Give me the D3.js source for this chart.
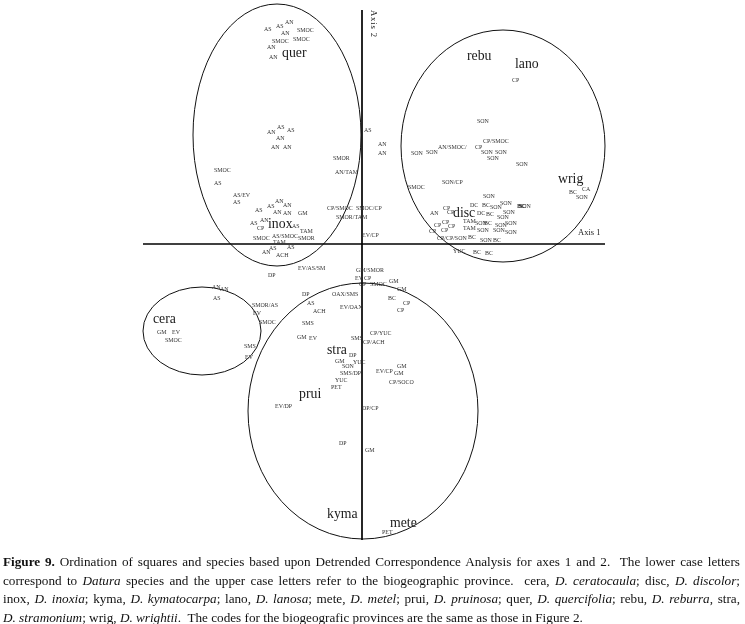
<!DOCTYPE html>
<html>
<head>
<meta charset="utf-8">
<script src="https://cdn.jsdelivr.net/npm/d3@7"></script>
<style>
body { margin: 0; background: #fff; }
#wrap { position: relative; width: 745px; height: 624px; overflow: hidden; }
#wrap svg { position: absolute; left: 0; top: 0; will-change: transform; }
.cap { position: absolute; left: 3px; width: 737px; font-family: "Liberation Serif", "Times New Roman", serif;
       font-size: 13.2px; line-height: 18.5px; color: #111; text-align: justify; text-align-last: justify;
       white-space: nowrap; will-change: transform; }
.cap.last { text-align-last: left; }
</style>
</head>
<body>
<div id="wrap"></div>
<script>
// DCA scores (axis 1, axis 2)

// species (lower case)
var species = [
	["quer", -0.80, 1.92], ["inox", -0.94, 0.21], ["rebu", 1.05, 1.89], ["lano", 1.53, 1.81],
	["wrig", 1.96, 0.66], ["disc", 0.91, 0.32], ["cera", -2.09, -0.74], ["stra", -0.35, -1.05],
	["prui", -0.63, -1.49], ["kyma", -0.35, -2.69], ["mete", 0.28, -2.78]
];

// squares, D. quercifolia / D. inoxia group
var querSquares = [
	["AS", -0.98, 2.15], ["AS", -0.86, 2.18], ["AN", -0.77, 2.22], ["AN", -0.81, 2.11],
	["SMOC", -0.65, 2.14], ["SMOC", -0.90, 2.03], ["SMOC", -0.69, 2.05], ["AN", -0.95, 1.97],
	["AN", -0.93, 1.87],
	["AN", -0.95, 1.12], ["AS", -0.85, 1.17], ["AS", -0.75, 1.14], ["AN", -0.86, 1.06],
	["AN", -0.91, 0.97], ["AN", -0.79, 0.97], ["AS", 0.02, 1.14], ["AN", 0.16, 1.00],
	["AN", 0.16, 0.91], ["SMOR", -0.29, 0.86], ["AN/TAM", -0.27, 0.72], ["SMOC", -1.48, 0.74],
	["AS", -1.48, 0.61], ["AS/EV", -1.29, 0.49], ["AS", -1.29, 0.42], ["AN", -0.87, 0.43],
	["AS", -0.95, 0.38], ["AN", -0.79, 0.39], ["AS", -1.07, 0.34], ["AN", -0.89, 0.32],
	["AN", -0.79, 0.31], ["GM", -0.64, 0.31], ["AS", -1.12, 0.21], ["AN", -1.02, 0.24],
	["CP", -1.05, 0.16], ["AS", -0.70, 0.18], ["TAM", -0.62, 0.13], ["SMOC", -1.09, 0.06],
	["AS/SMOC", -0.90, 0.08], ["SMOR", -0.64, 0.06], ["TAM", -0.89, 0.02], ["AS", -0.75, -0.03],
	["AN", -1.00, -0.08], ["AS", -0.93, -0.04], ["ACH", -0.86, -0.11],
	["CP/SMOC", -0.35, 0.36], ["SMOC/CP", -0.06, 0.36], ["SMOR/TAM", -0.26, 0.27], ["EV/CP", 0.00, 0.09]
];

// squares, D. reburra / D. lanosa / D. wrightii / D. discolor group
var rightSquares = [
	["CP", 1.50, 1.64], ["SON", 1.15, 1.23], ["SON", 0.49, 0.91], ["SON", 0.64, 0.92],
	["AN/SMOC/", 0.76, 0.97], ["CP", 1.13, 0.97], ["CP/SMOC", 1.21, 1.03], ["SON", 1.19, 0.92],
	["SON", 1.33, 0.92], ["SON", 1.25, 0.86], ["SON", 1.54, 0.80], ["SMOC", 0.46, 0.57],
	["SON/CP", 0.80, 0.62], ["BC", 2.07, 0.52], ["CA", 2.20, 0.55], ["SON", 2.14, 0.47],
	["SON", 1.21, 0.48], ["SON", 1.38, 0.41], ["DC", 1.08, 0.39], ["BC", 1.20, 0.39],
	["SON", 1.28, 0.37], ["SON", 1.41, 0.32], ["BC", 1.55, 0.38], ["SON", 1.57, 0.38],
	["BC", 1.56, 0.38], ["AN", 0.68, 0.31], ["CP", 0.81, 0.36], ["CP", 0.85, 0.32],
	["DC", 1.15, 0.31], ["BC", 1.24, 0.30], ["SON", 1.35, 0.27], ["TAM", 1.01, 0.23],
	["SON", 1.13, 0.21], ["BC", 1.22, 0.21], ["SON", 1.33, 0.19], ["SON", 1.43, 0.21],
	["CP", 0.67, 0.13], ["CP", 0.72, 0.19], ["CP", 0.80, 0.22], ["CP", 0.79, 0.14],
	["CP", 0.86, 0.18], ["TAM", 1.01, 0.16], ["SON", 1.15, 0.14], ["SON", 1.31, 0.14],
	["SON", 1.43, 0.12], ["CP/CP/SON", 0.75, 0.06], ["BC", 1.06, 0.07], ["SON", 1.18, 0.04],
	["BC", 1.31, 0.04], ["YUC", 0.91, -0.07], ["BC", 1.11, -0.08], ["BC", 1.23, -0.09]
];

// squares, D. ceratocaula group and the ones in between
var ceraSquares = [
	["EV/AS/SM", -0.64, -0.24], ["DP", -0.94, -0.31], ["AN", -1.50, -0.43], ["AN", -1.42, -0.45],
	["AS", -1.49, -0.54], ["SMOR/AS", -1.10, -0.61], ["EV", -1.09, -0.69], ["SMOC", -1.03, -0.78],
	["GM", -2.05, -0.88], ["EV", -1.90, -0.88], ["SMOC", -1.97, -0.96], ["SMS", -1.18, -1.02],
	["EV", -1.17, -1.13]
];

// squares, D. stramonium / D. pruinosa / D. kymatocarpa / D. metel group
var lowerSquares = [
	["GM/SMOR", -0.06, -0.26], ["EV", -0.07, -0.34], ["CP", 0.02, -0.34], ["CP", -0.03, -0.40],
	["SMOC", 0.08, -0.40], ["GM", 0.27, -0.37], ["GM", 0.35, -0.45], ["BC", 0.26, -0.54],
	["CP", 0.41, -0.59], ["CP", 0.35, -0.66], ["DP", -0.60, -0.50], ["OAX/SMS", -0.30, -0.50],
	["AS", -0.55, -0.59], ["ACH", -0.49, -0.67], ["EV/OAX", -0.22, -0.63], ["SMS", -0.60, -0.79],
	["GM", -0.65, -0.93], ["EV", -0.53, -0.94], ["SMS", -0.11, -0.94], ["CP/YUC", 0.08, -0.89],
	["CP/ACH", 0.01, -0.98], ["GM", -0.27, -1.17], ["DP", -0.13, -1.11], ["SON", -0.20, -1.22],
	["YUC", -0.09, -1.18], ["SMS/DP", -0.22, -1.29], ["YUC", -0.27, -1.36], ["PET", -0.31, -1.43],
	["EV/CP", 0.14, -1.27], ["GM", 0.35, -1.22], ["GM", 0.32, -1.29], ["CP/SOCO", 0.27, -1.38],
	["EV/DP", -0.87, -1.62], ["DP/CP", 0.00, -1.64], ["DP", -0.23, -1.99], ["GM", 0.03, -2.06],
	["PET", 0.20, -2.88]
];

// hand drawn envelopes: centre (axis 1, axis 2) and half widths in axis units
var groups = [
	["quer/inox", -0.85, 1.09, 0.84, 1.31],
	["rebu/lano/wrig/disc", 1.41, 0.98, 1.02, 1.16],
	["cera", -1.60, -0.87, 0.59, 0.44],
	["stra/prui/kyma/mete", 0.01, -1.67, 1.15, 1.28]
];

var axisNames = ["Axis 1", "Axis 2"];

var captionLines = [
	[["b", "Figure 9."], ["", " Ordination of squares and species based upon Detrended Correspondence Analysis for axes 1 and 2.\u00a0 The lower case letters"]],
	[["", "correspond to "], ["i", "Datura"], ["", " species and the upper case letters refer to the biogeographic province.\u00a0 cera, "], ["i", "D. ceratocaula"], ["", "; disc, "], ["i", "D. discolor"], ["", ";"]],
	[["", "inox, "], ["i", "D. inoxia"], ["", "; kyma, "], ["i", "D. kymatocarpa"], ["", "; lano, "], ["i", "D. lanosa"], ["", "; mete, "], ["i", "D. metel"], ["", "; prui, "], ["i", "D. pruinosa"], ["", "; quer, "], ["i", "D. quercifolia"], ["", "; rebu, "], ["i", "D. reburra"], ["", ", stra,"]],
	[["i", "D. stramonium"], ["", "; wrig, "], ["i", "D. wrightii"], ["", ".\u00a0 The codes for the biogeografic provinces are the same as those in Figure 2."]]
];

var width = 745, height = 624;

var xscale = d3.scaleLinear().domain([-2.19, 2.43]).range([143, 605]);
var yscale = d3.scaleLinear().domain([-2.96, 2.34]).range([540, 10]);

var wrap = d3.select("#wrap");
var svg = wrap.append("svg").attr("width", width).attr("height", 545);

var serif = '"Liberation Serif", "Times New Roman", serif';

// envelopes
svg.append("g").selectAll("ellipse")
	.data(groups)
	.enter()
	.append("ellipse")
	.attr("cx", function(g) { return xscale(g[1]); })
	.attr("cy", function(g) { return yscale(g[2]); })
	.attr("rx", function(g) { return xscale(g[3]) - xscale(0); })
	.attr("ry", function(g) { return yscale(0) - yscale(g[4]); })
	.attr("fill", "none")
	.attr("stroke", "#111")
	.attr("stroke-width", 1);

// axes through the origin
var axes = svg.append("g");
axes.append("line")
	.attr("x1", xscale.range()[0]).attr("x2", xscale.range()[1])
	.attr("y1", yscale(0)).attr("y2", yscale(0))
	.attr("stroke", "#000").attr("stroke-width", 1.7);
axes.append("line")
	.attr("x1", xscale(0)).attr("x2", xscale(0))
	.attr("y1", yscale.range()[1]).attr("y2", yscale.range()[0])
	.attr("stroke", "#000").attr("stroke-width", 1.7);

axes.append("text")
	.attr("x", xscale(2.16)).attr("y", yscale(0) - 9)
	.attr("font-family", serif).attr("font-size", 8.5).attr("fill", "#222")
	.text(axisNames[0]);
axes.append("text")
	.attr("transform", "translate(" + (xscale(0) + 9) + "," + yscale(2.34) + ") rotate(90)")
	.attr("font-family", serif).attr("font-size", 8.5).attr("fill", "#222")
	.attr("letter-spacing", 0.9)
	.text(axisNames[1]);

// square labels
var squares = querSquares.concat(rightSquares, ceraSquares, lowerSquares);
svg.append("g").selectAll("text")
	.data(squares)
	.enter()
	.append("text")
	.attr("transform", function(d) {
		return "translate(" + xscale(d[1]) + "," + yscale(d[2]) + ") scale(0.85,1)";
	})
	.attr("dy", "0.35em")
	.attr("font-family", serif)
	.attr("font-size", 7)
	.attr("fill", "#333")
	.text(function(d) { return d[0]; });

// species labels
svg.append("g").selectAll("text")
	.data(species)
	.enter()
	.append("text")
	.attr("transform", function(d) {
		return "translate(" + xscale(d[1]) + "," + yscale(d[2]) + ") scale(0.92,1)";
	})
	.attr("dy", "0.3em")
	.attr("font-family", serif)
	.attr("font-size", 15)
	.attr("fill", "#1a1a1a")
	.text(function(d) { return d[0]; });

// caption
wrap.selectAll("div.cap")
	.data(captionLines)
	.enter()
	.append("div")
	.attr("class", function(d, i) { return i == captionLines.length - 1 ? "cap last" : "cap"; })
	.style("top", function(d, i) { return (553 + i * 18.5) + "px"; })
	.each(function(line) {
		var div = d3.select(this);
		line.forEach(function(seg) {
			var s = div.append("span").text(seg[1]);
			if (seg[0] == "b") s.style("font-weight", "bold");
			if (seg[0] == "i") s.style("font-style", "italic");
		});
	});
</script>
</body>
</html>
